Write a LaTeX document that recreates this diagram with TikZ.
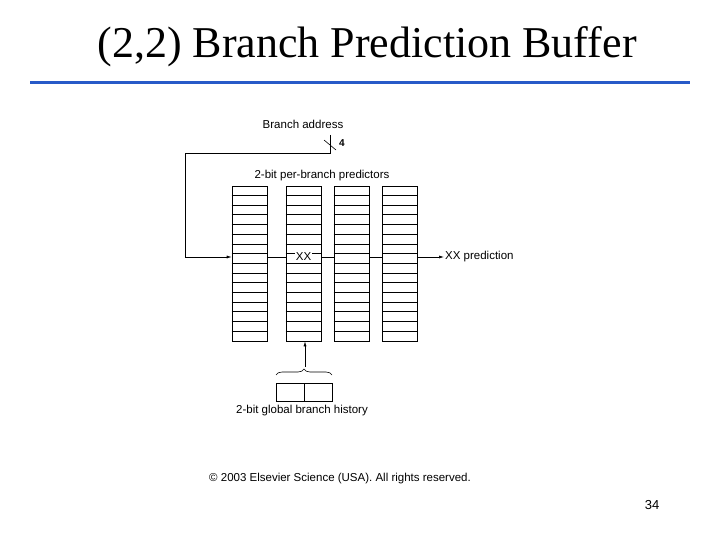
\documentclass[tikz,border=0pt]{standalone}
\usepackage{fontspec}
\setmainfont{Liberation Serif}
\newfontfamily\arial{Liberation Sans}
\usetikzlibrary{decorations.pathreplacing,arrows.meta}
\definecolor{rule}{RGB}{40,90,200}
\begin{document}
\begin{tikzpicture}[x=1pt,y=-1pt,
  lbl/.style={font=\arial\fontsize{11.5}{13}\selectfont,inner sep=1pt},
  col/.style={draw,line width=0.6pt,minimum width=35pt,minimum height=155pt,inner sep=0pt},
  ln/.style={line width=0.6pt},
  arr/.style={ln,-{Latex[length=5pt,width=3pt]}}]
\useasboundingbox (0,0) rectangle (720,540);
\node[font=\fontsize{44}{48}\selectfont] (title) at (367,47) {(2,2) Branch Prediction Buffer};
\draw[line width=3pt,color=rule] (30,83) -- (690,83);
\node[lbl] (ba) at (303,124) {Branch address};
\node[lbl] (pp) at (322,176) {2-bit per-branch predictors};
\foreach \i/\x in {1/249.5,2/303.5,3/351.5,4/400}{
  \node[col] (c\i) at (\x,263.5) {};
  \foreach \k in {1,...,15}
    \draw[ln] ([yshift=-\k*9.6875pt]c\i.north west) -- ([yshift=-\k*9.6875pt]c\i.north east);
}
\coordinate (top) at (330,135);
\coordinate (corner) at (330,153);
\coordinate (lc) at (185,153);
\coordinate (lb) at (185,257);
\draw[ln] (top) -- (corner) -- (lc) -- (lb);
\draw[arr] (lb) -- (c1.west |- lb);
\draw[ln] (324,140) -- (336,150);
\node[lbl,font=\arial\bfseries\fontsize{10}{11}\selectfont] (four) at (342,143) {4};
\draw[ln] (c1.east |- lb) -- (c2.west |- lb);
\draw[ln] (c2.east |- lb) -- (c3.west |- lb);
\draw[ln] (c3.east |- lb) -- (c4.west |- lb);
\node[lbl,fill=white,inner sep=0.5pt] (xx) at (303.5,257) {XX};
\node[lbl,anchor=west] (pred) at (444,257) {XX prediction};
\draw[arr] (c4.east |- lb) -- (pred.west);
\node[draw,ln,minimum width=28pt,minimum height=18pt,inner sep=0pt] (h1) at (290.5,392) {};
\node[draw,ln,minimum width=28pt,minimum height=18pt,inner sep=0pt] (h2) at (318.5,392) {};
\draw[ln,decorate,decoration={brace,amplitude=6pt}] (276,375) -- (332,375);
\coordinate (bt) at (305,367);
\draw[arr] (bt) -- (c2.south -| bt);
\node[lbl] (gh) at (302,411) {2-bit global branch history};
\node[lbl] (copy) at (340,479) {\textcopyright{} 2003 Elsevier Science (USA). All rights reserved.};
\node[font=\arial\fontsize{13}{14}\selectfont] (pg) at (652,505) {34};
\end{tikzpicture}
\end{document}
